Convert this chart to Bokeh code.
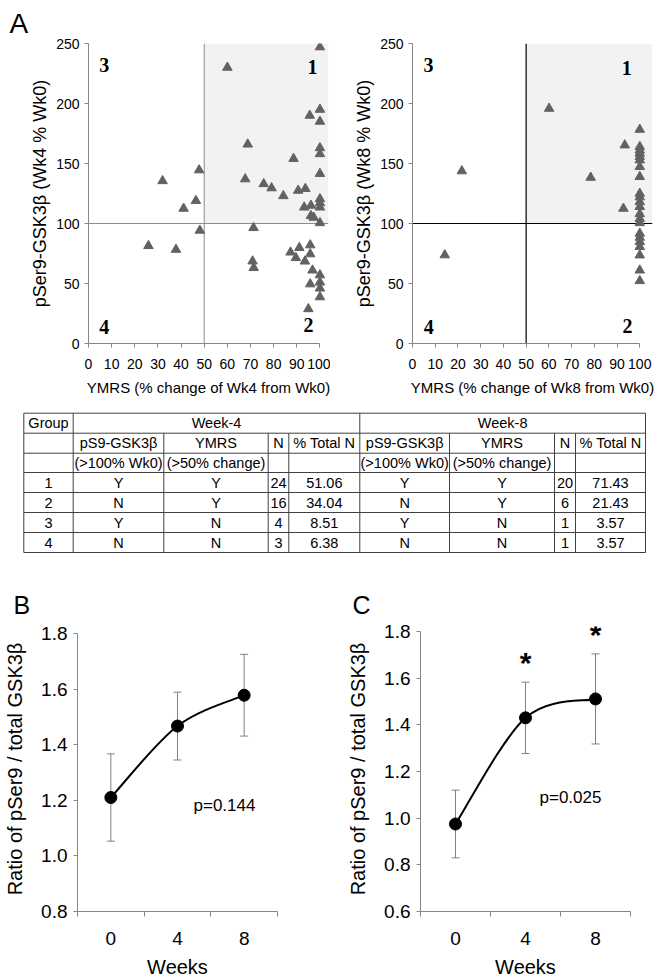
import numpy as np
from bokeh.plotting import figure
from bokeh.layouts import column, row
from bokeh.models import (Range1d, FixedTicker, Whisker, TeeHead, ColumnDataSource,
                          PrintfTickFormatter)
from bokeh.core.properties import value
from bokeh.embed import file_html
from bokeh.resources import INLINE

FONT = "Liberation Sans"
SERIF = "Liberation Serif"
AXIS_GRAY = "#868686"
MARK_GRAY = "#626262"
ERR_GRAY = "#808080"

# ---------------- Panel A data ----------------
wk4_ymrs = [60, 100, 100, 95.6, 100, 68.8, 100, 100, 88.6, 100, 67.7, 75.7,
            79.1, 84.2, 90.6, 93.7, 100, 100, 100, 93.2, 96.1, 96.1, 97.3, 100,
            71.3, 95.8, 87.3, 91.1, 95.8, 89.6, 93.5, 70.9, 71.4, 96.8, 100, 100,
            95.8, 100, 100, 95.0,
            32.0, 47.8, 46.4, 41.1,
            48.1, 25.9, 37.8]
wk4_pser9 = [230, 247, 195, 190, 185, 166, 163, 158, 154, 141.5, 137, 133,
             129.5, 123, 127.5, 129, 120.5, 117, 113.5, 113.5, 115, 106.5, 105, 100.5,
             96.4, 82, 76, 79.8, 74.5, 71.4, 68.5, 68.6, 63.1, 61, 57, 51,
             49.5, 46, 38.7, 28.8,
             135.5, 144.5, 119, 112.5,
             94.2, 81.4, 78.3]

wk8_ymrs = [60.1, 93.4, 78.4, 92.8,
            100, 100, 100, 100, 100, 100, 100, 100, 100, 100, 100,
            100, 100, 100, 100, 100, 100, 100, 100, 100, 100, 100,
            21.7, 14.2]
wk8_pser9 = [195.8, 165.3, 138.3, 112.5,
             178.3, 164, 161, 158.4, 155.6, 152.8, 147.3, 139, 125, 122, 118,
             114, 108, 104, 100.5, 91.7, 88.3, 84.7, 80.6, 73.6, 61, 52.2,
             143.7, 73.7]

YMRS_CUT = 50
PSER9_CUT = 100
Y_MAX = 250
x_ticks_A = [0, 10, 20, 30, 40, 50, 60, 70, 80, 90, 100]
y_ticks_A = [0, 50, 100, 150, 200, 250]
quadrant_labels = ["1", "2", "3", "4"]

# ---------------- Table data ----------------
table_groups = ["1", "2", "3", "4"]
wk4_pS9_flag = ["Y", "N", "Y", "N"]
wk4_ymrs_flag = ["Y", "Y", "N", "N"]
wk4_n = ["24", "16", "4", "3"]
wk4_pct = ["51.06", "34.04", "8.51", "6.38"]
wk8_pS9_flag = ["Y", "N", "Y", "N"]
wk8_ymrs_flag = ["Y", "Y", "N", "N"]
wk8_n = ["20", "6", "1", "1"]
wk8_pct = ["71.43", "21.43", "3.57", "3.57"]
sub_head1 = ["pS9-GSK3\u03b2", "YMRS", "N", "% Total N"]
sub_head2 = ["(>100% Wk0)", "(>50% change)", "", ""]

# ---------------- Panels B/C data ----------------
weeks = ["0", "4", "8"]
ratio_b = [1.210, 1.467, 1.578]
sem_b = [0.157, 0.122, 0.147]
ratio_c = [0.975, 1.430, 1.511]
sem_c = [0.145, 0.153, 0.193]
sig_c = ["", "*", "*"]
y_ticks_b = [0.8, 1.0, 1.2, 1.4, 1.6, 1.8]
y_ticks_c = [0.6, 0.8, 1.0, 1.2, 1.4, 1.6, 1.8]


def base_axes(p, tick_size, xlab_size, ylab_size):
    for ax in (p.xaxis[0], p.yaxis[0]):
        ax.axis_line_color = AXIS_GRAY
        ax.major_tick_line_color = AXIS_GRAY
        ax.minor_tick_line_color = None
        ax.major_tick_in = 0
        ax.major_tick_out = 4
        ax.major_label_text_font = FONT
        ax.major_label_text_color = "black"
        ax.major_label_text_font_size = tick_size
        ax.axis_label_text_font = FONT
        ax.axis_label_text_font_style = "normal"
        ax.axis_label_text_color = "black"
    p.xaxis[0].axis_label_text_font_size = xlab_size
    p.yaxis[0].axis_label_text_font_size = ylab_size


def set_letter(p, letter, size, offset, standoff):
    p.title.text = letter
    p.title.text_font = FONT
    p.title.text_font_size = size
    p.title.text_font_style = "normal"
    p.title.text_color = "black"
    p.title.align = "left"
    p.title.offset = offset
    p.title.standoff = standoff


def make_scatter(xs, ys, xlabel, ylabel, b_left, b_right, x_end, cut_color, cut_width,
                 qx, qy, letter=None):
    p = figure(frame_width=240, frame_height=300, x_range=Range1d(0, x_end),
               y_range=Range1d(0, Y_MAX), min_border_left=b_left, min_border_right=b_right,
               min_border_top=42, min_border_bottom=58, output_backend="svg",
               toolbar_location=None, tools="")
    p.grid.visible = False
    p.outline_line_color = None
    p.background_fill_color = "white"
    p.quad(left=[YMRS_CUT], right=[x_end], bottom=[PSER9_CUT], top=[Y_MAX],
           fill_color="#f2f2f2", line_color=None)
    p.segment(x0=[0], y0=[PSER9_CUT], x1=[x_end], y1=[PSER9_CUT],
              line_color=cut_color, line_width=cut_width)
    p.segment(x0=[YMRS_CUT], y0=[0], x1=[YMRS_CUT], y1=[Y_MAX],
              line_color=cut_color, line_width=cut_width)
    p.scatter(xs, ys, marker="triangle", size=9.5, fill_color=MARK_GRAY, line_color=MARK_GRAY)
    p.text(x=qx, y=qy, text=quadrant_labels, text_font=value(SERIF), text_font_style="bold",
           text_font_size="20px", text_align="center", text_baseline="middle", text_color="black")
    p.xaxis.ticker = FixedTicker(ticks=x_ticks_A)
    p.yaxis.ticker = FixedTicker(ticks=y_ticks_A)
    p.xaxis.bounds = (0, 100)
    p.xaxis.axis_label = xlabel
    p.yaxis.axis_label = ylabel
    base_axes(p, "14px", "15px", "18px")
    p.xaxis.major_label_standoff = 11
    p.yaxis.major_label_standoff = 5
    p.xaxis.axis_label_standoff = 7
    p.yaxis.axis_label_standoff = 3
    if letter:
        set_letter(p, letter, "28px", -79, 10)
    return p


pA4 = make_scatter(wk4_ymrs, wk4_pser9, "YMRS (% change of Wk4 from Wk0)",
                   "pSer9-GSK3\u03b2 (Wk4 % Wk0)", 88, 2, 103.7, "#8c8c8c", 1,
                   [96.8, 95.1, 6.8, 6.8], [230.6, 15.3, 232.3, 13.9], letter="A")
pA8 = make_scatter(wk8_ymrs, wk8_pser9, "YMRS (% change of Wk8 from Wk0)",
                   "pSer9-GSK3\u03b2 (Wk8 % Wk0)", 82, 9, 105.6, "black", 1.2,
                   [94.3, 94.6, 7.0, 7.2], [229.2, 14.8, 232.0, 13.9])

# ---------------- Table ----------------
TW, TH = 661, 166
col_edges = [23.3, 72.7, 163.3, 267.7, 288.3, 359.3, 449, 554, 575, 645]
row_edges = [11.7, 31.7, 51.7, 71, 91, 111, 131, 151]
ptab = figure(frame_width=TW, frame_height=TH, x_range=Range1d(0, TW), y_range=Range1d(TH, 0),
              min_border=0, x_axis_type=None, y_axis_type=None, output_backend="svg",
              toolbar_location=None, tools="")
ptab.grid.visible = False
ptab.outline_line_color = None
hx0, hx1, hy = [], [], []
for yv in row_edges:
    hx0.append(col_edges[0]); hx1.append(col_edges[-1]); hy.append(yv)
ptab.segment(x0=hx0, y0=hy, x1=hx1, y1=hy, line_color="#404040", line_width=1)
vx, vy0, vy1 = [], [], []
for j, xv in enumerate(col_edges):
    vx.append(xv)
    vy0.append(row_edges[0] if j in (0, 1, 5, 9) else row_edges[1])
    vy1.append(row_edges[-1])
ptab.segment(x0=vx, y0=vy0, x1=vx, y1=vy1, line_color="#404040", line_width=1)

cc = [(col_edges[i] + col_edges[i + 1]) / 2 for i in range(len(col_edges) - 1)]
rc = [(row_edges[i] + row_edges[i + 1]) / 2 for i in range(len(row_edges) - 1)]
tx, ty, tt = [], [], []
tx += [cc[0], (col_edges[1] + col_edges[5]) / 2, (col_edges[5] + col_edges[9]) / 2]
ty += [rc[0]] * 3
tt += ["Group", "Week-4", "Week-8"]
for k, lab in enumerate(sub_head1 + sub_head1):
    tx.append(cc[k + 1]); ty.append(rc[1]); tt.append(lab)
for k, lab in enumerate(sub_head2 + sub_head2):
    tx.append(cc[k + 1]); ty.append(rc[2]); tt.append(lab)
for r in range(len(table_groups)):
    vals = [table_groups[r], wk4_pS9_flag[r], wk4_ymrs_flag[r], wk4_n[r], wk4_pct[r],
            wk8_pS9_flag[r], wk8_ymrs_flag[r], wk8_n[r], wk8_pct[r]]
    for k, v in enumerate(vals):
        tx.append(cc[k]); ty.append(rc[3 + r]); tt.append(v)
ptab.text(x=tx, y=ty, text=tt, text_font=value(FONT), text_font_size="14.5px",
          text_align="center", text_baseline="middle", text_color="black")


# ---------------- Panels B / C ----------------
FRAME_H_BC = 285   # both frames share top/bottom borders (a row aligns them)


def make_line(mean, sem, y_lo, y_top, px_per_unit, yticks, fw, bl, br, letter, loff,
              pval, px, py, stars=None):
    n = len(weeks)
    xs = [i + 0.5 for i in range(n)]
    y_end = y_lo + FRAME_H_BC / px_per_unit   # a little headroom above the top tick
    p = figure(frame_width=fw, frame_height=FRAME_H_BC, x_range=Range1d(0, n),
               y_range=Range1d(y_lo, y_end), min_border_left=bl, min_border_right=br,
               min_border_top=59, min_border_bottom=69, output_backend="svg",
               toolbar_location=None, tools="")
    p.grid.visible = False
    p.outline_line_color = None
    up = [m + s for m, s in zip(mean, sem)]
    lo = [m - s for m, s in zip(mean, sem)]
    src = ColumnDataSource(dict(x=xs, upper=up, lower=lo))
    p.add_layout(Whisker(source=src, base="x", upper="upper", lower="lower",
                         line_color=ERR_GRAY, line_width=1,
                         upper_head=TeeHead(size=8, line_color=ERR_GRAY, line_width=1),
                         lower_head=TeeHead(size=8, line_color=ERR_GRAY, line_width=1)))
    # smoothed line (Catmull-Rom style Bezier through the points)
    pts = list(zip(xs, mean))
    b = dict(x0=[], y0=[], x1=[], y1=[], cx0=[], cy0=[], cx1=[], cy1=[])
    for i in range(n - 1):
        p0 = pts[max(i - 1, 0)]; p1 = pts[i]; p2 = pts[i + 1]; p3 = pts[min(i + 2, n - 1)]
        b["x0"].append(p1[0]); b["y0"].append(p1[1])
        b["x1"].append(p2[0]); b["y1"].append(p2[1])
        b["cx0"].append(p1[0] + (p2[0] - p0[0]) / 6); b["cy0"].append(p1[1] + (p2[1] - p0[1]) / 6)
        b["cx1"].append(p2[0] - (p3[0] - p1[0]) / 6); b["cy1"].append(p2[1] - (p3[1] - p1[1]) / 6)
    p.bezier(source=ColumnDataSource(b), x0="x0", y0="y0", x1="x1", y1="y1",
             cx0="cx0", cy0="cy0", cx1="cx1", cy1="cy1", line_color="black", line_width=2)
    p.scatter(xs, mean, marker="circle", size=12, fill_color="black", line_color="black")
    p.text(x=[px], y=[py], text=[pval], text_font=value(FONT), text_font_size="17px",
           text_align="left", text_baseline="middle", text_color="black")
    if stars:
        sx = [xs[i] for i in range(n) if stars[i]]
        sy = [up[i] + 0.085 for i in range(n) if stars[i]]
        st = [stars[i] for i in range(n) if stars[i]]
        p.text(x=sx, y=sy, text=st, text_font=value(FONT), text_font_size="30px",
               text_font_style="bold", text_align="center", text_baseline="middle",
               text_color="black")
    p.xaxis.ticker = FixedTicker(ticks=xs, minor_ticks=list(range(n + 1)))
    p.xaxis.major_label_overrides = {x: w for x, w in zip(xs, weeks)}
    p.yaxis.ticker = FixedTicker(ticks=yticks)
    p.yaxis.bounds = (y_lo, y_top)
    p.yaxis.formatter = PrintfTickFormatter(format="%.1f")
    p.xaxis.axis_label = "Weeks"
    p.yaxis.axis_label = "Ratio of pSer9 / total GSK3\u03b2"
    base_axes(p, "19px", "20px", "20px")
    p.xaxis.major_tick_out = 0
    p.xaxis.major_tick_line_color = None
    p.xaxis.minor_tick_line_color = AXIS_GRAY
    p.xaxis.minor_tick_out = 5
    p.xaxis.minor_tick_in = 0
    p.xaxis.major_label_standoff = 15
    p.xaxis.axis_label_standoff = 8
    p.yaxis.major_label_standoff = 6
    p.yaxis.axis_label_standoff = 12
    set_letter(p, letter, "25px", loff, 16)
    return p


pB = make_line(ratio_b, sem_b, 0.8, 1.8, 278.0, y_ticks_b, 200, 77, 53, "B", -64,
               "p=0.144", 1.74, 1.18)
pC = make_line(ratio_c, sem_c, 0.6, 1.8, 280.0 / 1.2, y_ticks_c, 210, 90, 31, "C", -68,
               "p=0.025", 1.70, 1.089, stars=sig_c)

layout = column(row(pA4, pA8), ptab, row(pB, pC))
open("out.html", "w").write(file_html(layout, INLINE))
